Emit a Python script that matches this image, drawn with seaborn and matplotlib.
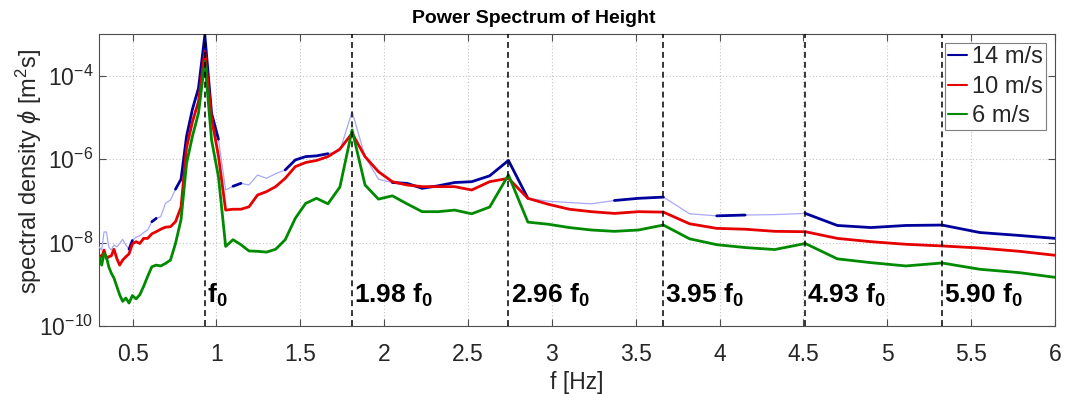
import matplotlib
matplotlib.use("Agg")
import matplotlib.pyplot as plt
import matplotlib.transforms as mtransforms
from matplotlib.lines import Line2D
from matplotlib.ticker import FixedLocator, FixedFormatter, NullLocator
import pandas as pd
import seaborn as sns

# ---------------- data ----------------
freq = [0.300, 0.316, 0.330, 0.344, 0.358, 0.373, 0.389, 0.406, 0.423, 0.441,
        0.460, 0.479, 0.499, 0.521, 0.543, 0.566, 0.590, 0.615, 0.641, 0.668,
        0.696, 0.726, 0.756, 0.789, 0.822, 0.857, 0.893, 0.931, 0.971, 1.012,
        1.055, 1.099, 1.146, 1.194, 1.245, 1.298, 1.353, 1.410, 1.470, 1.532,
        1.597, 1.665, 1.736, 1.809, 1.886, 1.966, 2.049, 2.136, 2.227, 2.321,
        2.420, 2.522, 2.629, 2.741, 2.857, 2.978, 3.104, 3.236, 3.373, 3.516,
        3.665, 3.821, 3.983, 4.152, 4.328, 4.511, 4.702, 4.902, 5.110, 5.326,
        5.552, 5.788, 6.033]

psd_14 = [7.9e-9, 6.6e-9, 1.8e-8, 1.8e-8, 7.9e-9, 6.6e-9, 8.7e-9, 7.9e-9, 9.5e-9, 1.2e-8,
          8.7e-9, 6.9e-9, 1.12e-8, 1.35e-8, 1.45e-8, 1.74e-8, 2.0e-8, 3.16e-8, 3.8e-8, 4.17e-8,
          8.7e-8, 1.05e-7, 1.9e-7, 3.3e-7, 3.55e-6, 1.58e-5, 5.0e-5, 9.3e-4, 1.26e-5, 3.0e-6,
          1.82e-7, 2.24e-7, 2.63e-7, 2.4e-7, 4.17e-7, 3.47e-7, 4.47e-7, 5.5e-7, 9.55e-7, 1.15e-6,
          1.2e-6, 1.35e-6, 1.58e-6, 1.38e-5, 1.15e-6, 3.3e-7, 2.75e-7, 2.63e-7, 2.0e-7, 2.29e-7,
          2.75e-7, 2.88e-7, 3.98e-7, 9.3e-7, 1.15e-7, 9.8e-8, 9.1e-8, 8.5e-8, 1.02e-7, 1.15e-7,
          1.23e-7, 4.9e-8, 4.37e-8, 4.57e-8, 4.68e-8, 5.0e-8, 2.57e-8, 2.29e-8, 2.57e-8, 2.63e-8,
          1.74e-8, 1.48e-8, 1.23e-8]

psd_10 = [5.0e-9, 4.47e-9, 6.6e-9, 4.17e-9, 4.57e-9, 4.79e-9, 6.9e-9, 4.17e-9, 2.88e-9, 3.8e-9,
          4.57e-9, 5.37e-9, 9.3e-9, 1.05e-8, 9.5e-9, 1.26e-8, 1.26e-8, 1.62e-8, 1.82e-8, 2.09e-8,
          2.34e-8, 2.4e-8, 3.16e-8, 7.1e-8, 1.9e-6, 7.9e-6, 2.4e-5, 3.8e-4, 9.55e-6, 1.2e-6,
          6.0e-8, 6.3e-8, 6.3e-8, 7.2e-8, 1.38e-7, 1.66e-7, 2.19e-7, 3.47e-7, 6.6e-7, 8.3e-7,
          9.3e-7, 1.15e-6, 1.74e-6, 4.17e-6, 1.15e-6, 5.0e-7, 2.88e-7, 2.4e-7, 2.19e-7, 2.19e-7,
          2.19e-7, 1.82e-7, 2.88e-7, 3.47e-7, 1.15e-7, 8.3e-8, 6.3e-8, 5.5e-8, 5.0e-8, 5.5e-8,
          5.37e-8, 2.82e-8, 2.19e-8, 2.09e-8, 1.86e-8, 1.82e-8, 1.26e-8, 1.05e-8, 9.1e-9, 8.3e-9,
          7.4e-9, 6.17e-9, 4.79e-9]

psd_6 = [4.57e-9, 2.88e-9, 5.5e-9, 4.57e-9, 2.63e-9, 1.86e-9, 1.41e-9, 8.9e-10, 5.6e-10, 3.9e-10,
         4.68e-10, 3.55e-10, 5.37e-10, 4.47e-10, 5.6e-10, 8.9e-10, 1.55e-9, 2.63e-9, 2.88e-9, 2.75e-9,
         3.16e-9, 3.8e-9, 9.5e-9, 3.55e-8, 7.9e-7, 3.55e-6, 1.26e-5, 2.19e-4, 2.88e-6, 3.8e-7,
         8.1e-9, 1.17e-8, 8.9e-9, 6.3e-9, 6.17e-9, 5.9e-9, 6.9e-9, 1.17e-8, 3.8e-8, 8.7e-8,
         1.15e-7, 8.5e-8, 2.14e-7, 5.0e-6, 2.4e-7, 1.1e-7, 1.32e-7, 8.5e-8, 5.5e-8, 5.5e-8,
         6.0e-8, 4.9e-8, 7.1e-8, 4.17e-7, 3.09e-8, 2.75e-8, 2.29e-8, 2.0e-8, 1.86e-8, 2.0e-8,
         2.63e-8, 1.23e-8, 8.9e-9, 7.6e-9, 6.8e-9, 9.5e-9, 4.07e-9, 3.3e-9, 2.75e-9, 3.24e-9,
         2.29e-9, 1.9e-9, 1.41e-9]

series_names = ["14 m/s", "10 m/s", "6 m/s"]

harmonic_freqs = [0.931, 1.809, 2.741, 3.665, 4.511, 5.326]
harmonic_labels = [r"$\mathbf{f_0}$", r"$\mathbf{1.98\ f_0}$", r"$\mathbf{2.96\ f_0}$",
                   r"$\mathbf{3.95\ f_0}$", r"$\mathbf{4.93\ f_0}$", r"$\mathbf{5.90\ f_0}$"]

x_ticks = [0.5, 1, 1.5, 2, 2.5, 3, 3.5, 4, 4.5, 5, 5.5, 6]
x_tick_labels = ["0.5", "1", "1.5", "2", "2.5", "3", "3.5", "4", "4.5", "5", "5.5", "6"]
y_ticks = [1e-10, 1e-8, 1e-6, 1e-4]
y_tick_labels = [r"10$^{-10}$", r"10$^{-8}$", r"10$^{-6}$", r"10$^{-4}$"]

# frequency spans where the 14 m/s trace renders as a bold dark line
dark_spans_14 = [(0.479, 0.499), (0.615, 0.641), (0.756, 1.012), (1.099, 1.146),
                 (1.410, 1.665), (2.049, 2.857), (3.373, 3.665), (3.983, 4.152),
                 (4.511, 6.033)]

# ---------------- style ----------------
sns.set_style("ticks")
plt.rcParams["font.family"] = ["Liberation Sans", "DejaVu Sans"]
plt.rcParams["mathtext.fontset"] = "custom"
plt.rcParams["mathtext.rm"] = "Liberation Sans"
plt.rcParams["mathtext.it"] = "Liberation Sans:italic"
plt.rcParams["mathtext.bf"] = "Liberation Sans:bold"

DARK_BLUE = "#00009c"
LAVENDER = "#a8a8f8"
RED = "#e60000"
GREEN = "#008a00"
TXT = "#262626"
FRAME = "#4d4d4d"

n = len(freq)
df = pd.DataFrame({
    "f": freq * 3,
    "psd": psd_14 + psd_10 + psd_6,
    "speed": [series_names[0]] * n + [series_names[1]] * n + [series_names[2]] * n,
})

fig, ax = plt.subplots(figsize=(10.67, 3.94), dpi=100)
fig.subplots_adjust(left=0.0928, right=0.9888, top=0.9137, bottom=0.1726)
ax.set_yscale("log")

d14 = df[df["speed"] == series_names[0]]
sns.lineplot(data=d14, x="f", y="psd", color=LAVENDER, linewidth=0.9,
             estimator=None, legend=False, ax=ax, zorder=3)
for lo, hi in dark_spans_14:
    seg = d14[(d14["f"] >= lo - 1e-9) & (d14["f"] <= hi + 1e-9)]
    sns.lineplot(data=seg, x="f", y="psd", color=DARK_BLUE, linewidth=2.0,
                 estimator=None, legend=False, ax=ax, zorder=4)
sns.lineplot(data=df[df["speed"] != series_names[0]], x="f", y="psd", hue="speed",
             hue_order=series_names[1:], palette={series_names[1]: RED, series_names[2]: GREEN},
             linewidth=2.0, estimator=None, legend=False, ax=ax, zorder=5)

# harmonic markers
trans = mtransforms.blended_transform_factory(ax.transData, ax.transAxes)
trans_txt = mtransforms.offset_copy(trans, fig=fig, x=1.5, y=0, units="points")
for hf, lab in zip(harmonic_freqs, harmonic_labels):
    ax.axvline(hf, color="black", linewidth=1.1, linestyle=(0, (3.9, 2.6)), zorder=6)
    ax.text(hf, 0.08, lab, transform=trans_txt, ha="left", va="baseline",
            fontsize=19, color="black", zorder=7)

ax.set_xlim(0.3, 6)
ax.set_ylim(1e-10, 1e-3)
ax.xaxis.set_major_locator(FixedLocator(x_ticks))
ax.xaxis.set_major_formatter(FixedFormatter(x_tick_labels))
ax.yaxis.set_major_locator(FixedLocator(y_ticks))
ax.yaxis.set_major_formatter(FixedFormatter(y_tick_labels))
ax.yaxis.set_minor_locator(NullLocator())
ax.xaxis.set_minor_locator(NullLocator())

ax.grid(True, which="major", linestyle=(0, (1, 2)), color="#c4c4c4", linewidth=0.8)
ax.tick_params(axis="both", which="both", direction="in", length=5, width=0.8,
               color=FRAME, labelcolor=TXT, labelsize=16.5, top=True, right=True)
ax.tick_params(axis="x", pad=12)
ax.tick_params(axis="y", pad=4)
for s in ax.spines.values():
    s.set_color(FRAME)
    s.set_linewidth(0.8)

ax.set_xlabel("f [Hz]", fontsize=16.5, color=TXT)
ax.set_ylabel(r"spectral density $\phi$ [m$^2$s]", fontsize=17, color=TXT)
ax.yaxis.set_label_coords(-0.058, 0.53)
ax.set_title("Power Spectrum of Height", fontsize=14, fontweight="bold", color="black",
             x=0.455, pad=8)

handles = [Line2D([], [], color=DARK_BLUE, linewidth=1.5),
           Line2D([], [], color=RED, linewidth=1.5),
           Line2D([], [], color=GREEN, linewidth=1.5)]
leg = ax.legend(handles, series_names, loc="upper right", fontsize=17, frameon=True,
                fancybox=False, framealpha=1, edgecolor="#7f7f7f", handlelength=0.8,
                handletextpad=0.2, labelspacing=0.32, borderpad=0.12, borderaxespad=0.4)
leg.get_frame().set_linewidth(0.8)
leg.set_zorder(10)

fig.savefig("out.png", dpi=100)
